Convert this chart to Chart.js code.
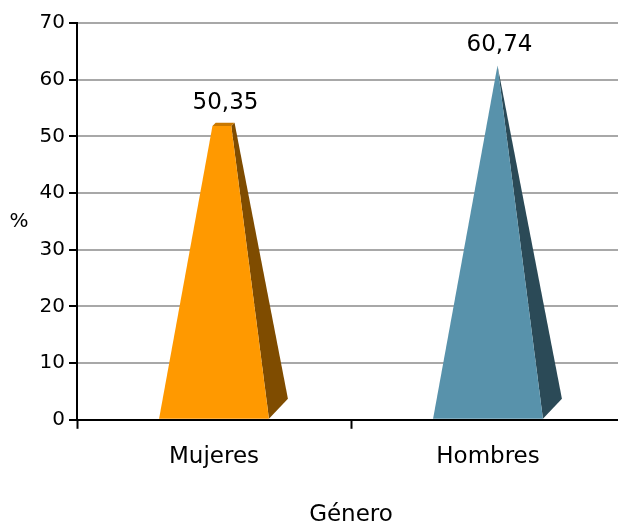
<!DOCTYPE html>
<html>
<head>
<meta charset="utf-8">
<script src="https://cdn.jsdelivr.net/npm/chart.js@4/dist/chart.umd.min.js"></script>
<style>
    html, body { margin: 0; padding: 0; overflow: hidden; background: #fff; }
    canvas { display: block; }
</style>
</head>
<body>
<canvas id="chart" width="625" height="525"></canvas>
<script>
const categories = ['Mujeres', 'Hombres'];
const values = [50.35, 60.74];
const frontColors = ['#ff9900', '#5892ab'];
const sideColors = ['#7f4c00', '#2b4a57'];
const topColors = ['#c97800', '#3f6f82'];
const yTicks = [0, 10, 20, 30, 40, 50, 60, 70];

const FONT = "'DejaVu Sans', sans-serif";
// oblique offset of the pyramid depth (px)
const DX = 19, DY = -20;

const fmt = v => v.toFixed(2).replace('.', ',');

// draws the bars as 3D pyramids, all pointing to the max value
const pyramidPlugin = {
    id: 'pyramids',
    beforeDatasetDraw() { return false; },
    afterDatasetsDraw(chart) {
        const ctx = chart.ctx;
        const yScale = chart.scales.y;
        const meta = chart.getDatasetMeta(0);
        const maxVal = Math.max(...values);
        const yA = yScale.getPixelForValue(maxVal);

        meta.data.forEach((el, i) => {
            const w = el.width;
            const xL = el.x - w / 2, xR = el.x + w / 2;
            const y0 = el.base;
            const t = (y0 - el.y) / (y0 - yA);
            const fy = y0 + (yA - y0) * t + DY / 2 * t;
            const fxL = xL + (w / 2 + DX / 2) * t;
            const fxR = xR - (w / 2 - DX / 2) * t;
            const bx = DX * (1 - t), by = DY * (1 - t);

            const poly = (pts, color) => {
                ctx.beginPath();
                ctx.moveTo(pts[0][0], pts[0][1]);
                for (let k = 1; k < pts.length; k++) ctx.lineTo(pts[k][0], pts[k][1]);
                ctx.closePath();
                ctx.fillStyle = color;
                ctx.fill();
            };

            ctx.save();
            poly([[xR, y0], [xR + DX, y0 + DY], [fxR + bx, fy + by], [fxR, fy]], sideColors[i]);
            if (t < 0.999) {
                poly([[fxL, fy], [fxR, fy], [fxR + bx, fy + by], [fxL + bx, fy + by]], topColors[i]);
            }
            poly([[xL, y0], [xR, y0], [fxR, fy], [fxL, fy]], frontColors[i]);

            // value label
            ctx.fillStyle = '#000';
            ctx.font = '23px ' + FONT;
            ctx.textAlign = 'center';
            ctx.textBaseline = 'middle';
            ctx.fillText(fmt(values[i]), el.x + DX / 2 + 2, fy + by - 20);
            ctx.restore();
        });

        // y axis title, not rotated
        ctx.save();
        ctx.fillStyle = '#000';
        ctx.font = '20px ' + FONT;
        ctx.textAlign = 'center';
        ctx.textBaseline = 'middle';
        ctx.fillText('%', 19, (yScale.top + yScale.bottom) / 2);
        ctx.restore();
    }
};

new Chart(document.getElementById('chart'), {
    type: 'bar',
    data: {
        labels: categories,
        datasets: [{
            data: values,
            backgroundColor: frontColors,
            barPercentage: 1,
            categoryPercentage: 0.401
        }]
    },
    options: {
        responsive: false,
        animation: false,
        layout: { padding: { top: 23, left: 0, right: 0, bottom: 0 } },
        plugins: {
            legend: { display: false },
            tooltip: { enabled: false }
        },
        scales: {
            x: {
                offset: true,
                grid: {
                    display: true,
                    drawOnChartArea: false,
                    offset: true,
                    tickLength: 9,
                    tickColor: '#000',
                    tickWidth: 2
                },
                border: { color: '#000', width: 2 },
                ticks: {
                    color: '#000',
                    padding: 14,
                    font: { family: FONT, size: 23 }
                },
                title: {
                    display: true,
                    text: 'Género',
                    color: '#000',
                    font: { family: FONT, size: 23 },
                    padding: { top: 17, bottom: -4 }
                }
            },
            y: {
                min: 0,
                max: 70,
                afterBuildTicks: scale => { scale.ticks = yTicks.map(v => ({ value: v })); },
                afterFit: scale => { scale.width = 77; },
                grid: {
                    color: '#a8a8a8',
                    lineWidth: 2,
                    tickLength: 8,
                    tickColor: '#000',
                    tickWidth: 2
                },
                border: { color: '#000', width: 2 },
                ticks: {
                    color: '#000',
                    padding: 4,
                    font: { family: FONT, size: 20 }
                }
            }
        }
    },
    plugins: [pyramidPlugin]
});
</script>
</body>
</html>
